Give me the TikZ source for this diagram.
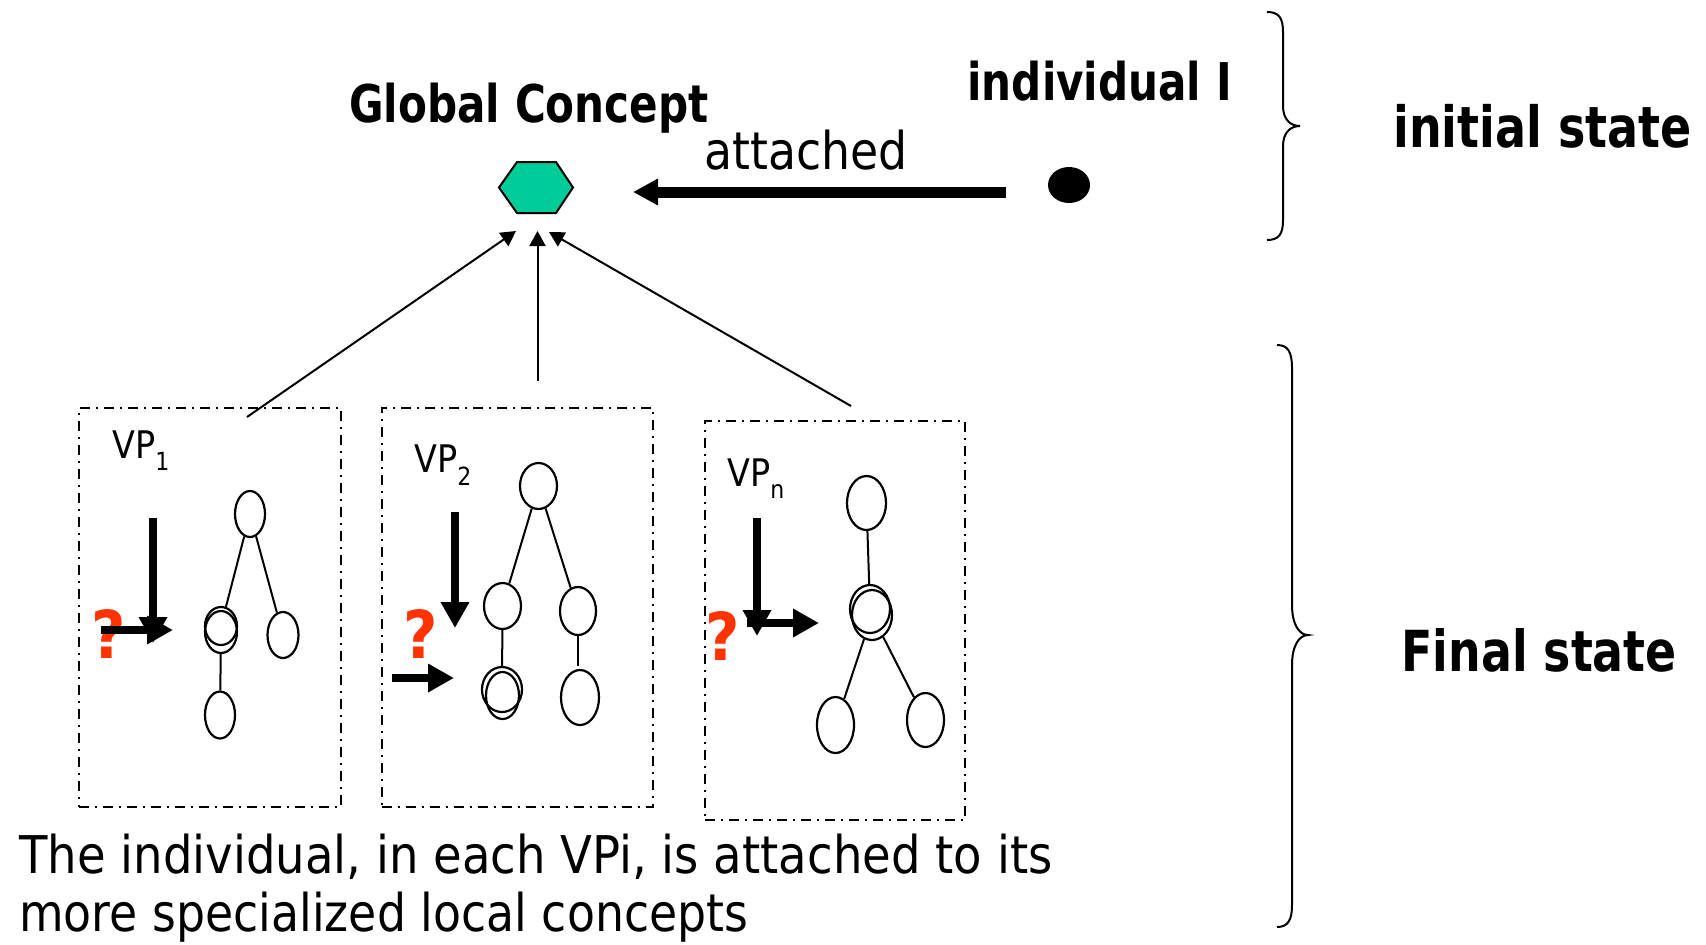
\documentclass[tikz,border=0pt]{standalone}
\usepackage{fontspec}
\setmainfont{DejaVu Sans}[FakeStretch=0.88]
\newfontfamily\bfam{DejaVu Sans}[FakeStretch=0.81]
\newfontfamily\descfam{DejaVu Sans}[FakeStretch=0.895]
\newfontfamily\desctwofam{DejaVu Sans}[FakeStretch=0.88]
\newfontfamily\qfam{DejaVu Sans}[FakeStretch=0.9]
\usetikzlibrary{arrows.meta,shapes.geometric,fit}
\definecolor{gcteal}{HTML}{00CC99}
\definecolor{qred}{HTML}{FF3300}
\tikzset{
  lbl/.style={inner sep=0, anchor=base west},
  boldlbl/.style={lbl, font=\bfam\bfseries\fontsize{#1}{#1}\selectfont},
  reglbl/.style={lbl, font=\fontsize{#1}{#1}\selectfont},
  desclbl/.style={lbl, font=\descfam\fontsize{26}{26}\selectfont},
  desctwolbl/.style={lbl, font=\desctwofam\fontsize{26}{26}\selectfont},
  vpbox/.style={draw, line width=1pt, dash pattern=on 5pt off 3pt on 1pt off 3pt, inner sep=0},
  cn/.style n args={2}{draw, ellipse, line width=1.1pt, inner sep=0, minimum width=#1, minimum height=#2},
  treeln/.style={line width=1pt},
  thinarr/.style={line width=1pt, -{Triangle[length=7.5pt,width=8pt]}},
  bigarr/.style={line width=4pt, -{Triangle[length=13pt,width=13.5pt]}},
  mainarr/.style={line width=5.5pt, -{Triangle[length=12.5pt,width=12.5pt]}},
  qmark/.style={inner sep=0, anchor=base, text=qred, font=\qfam\bfseries\fontsize{33}{33}\selectfont},
  brace/.style={line width=1pt},
}
\newcommand{\vpsub}[2]{\raisebox{#1}{\fontsize{12.5}{12.5}\selectfont #2}}
\begin{document}
\begin{tikzpicture}[x=0.5pt,y=-0.5pt]
\useasboundingbox (0,0) rectangle (1706,944);

% titles
\node[boldlbl=26] (gctext) at (349,122) {Global Concept};
\node[boldlbl=26] (indtext) at (967,100) {individual I};
\node[reglbl=26] (att) at (704,169) {attached};
\node[boldlbl=28.4] (init) at (1393,147) {initial state};
\node[boldlbl=28.3] (fin) at (1401,671) {Final state};

% global concept hexagon
\draw[line width=1pt, fill=gcteal] (499,187.5) -- (517,162) -- (556,162) -- (573,187.5) -- (556,213) -- (517,213) -- cycle;
\coordinate (gc) at (536,187.5);

% individual
\node[fill, ellipse, minimum width=21pt, minimum height=18pt, inner sep=0] (dot) at (1069,185) {};
\coordinate (ms) at (1006,192);
\coordinate (me) at (633,192);
\draw[mainarr] (ms) -- (me);

% braces
\draw[brace] (1267,12) .. controls (1279,12) and (1283,18) .. (1283,32) -- (1283,106)
  .. controls (1283,119) and (1290,126) .. (1300,126)
  .. controls (1290,126) and (1283,133) .. (1283,146) -- (1283,220)
  .. controls (1283,234) and (1279,240) .. (1267,240);
\draw[brace] (1277,345) .. controls (1288,345) and (1292,352) .. (1292,368) -- (1292,605)
  .. controls (1292,624) and (1299,635) .. (1308,635)
  .. controls (1299,635) and (1292,646) .. (1292,665) -- (1292,905)
  .. controls (1292,920) and (1288,927) .. (1277,927);

% boxes
\node[vpbox, fit={(79,408) (341,807)}] (box1) {};
\node[vpbox, fit={(382,408) (653,807)}] (box2) {};
\node[vpbox, fit={(705,421) (965,820)}] (box3) {};

% thin arrows to global concept
\coordinate (s1) at (247,417); \coordinate (e1) at (516,231);
\coordinate (s2) at (537.5,381); \coordinate (e2) at (537.5,231);
\coordinate (s3) at (851,406); \coordinate (e3) at (549,232);
\draw[thinarr] (s1) -- (e1);
\draw[thinarr] (s2) -- (e2);
\draw[thinarr] (s3) -- (e3);

% VP labels
\node[reglbl=19] (vp1) at (112,458) {VP\vpsub{-6pt}{1}};
\node[reglbl=19] (vp2) at (414,472) {VP\vpsub{-6.5pt}{2}};
\node[reglbl=19] (vpn) at (727,486) {VP\vpsub{-6pt}{n}};

% question marks
\node[qmark] (q1) at (109,658) {?};
\node[qmark] (q2) at (421,658) {?};
\node[qmark] (q3) at (723,660) {?};

% box 1 arrows
\coordinate (d1s) at (153,518); \coordinate (d1e) at (153,643);
\coordinate (r1s) at (101,630); \coordinate (r1e) at (173,630);
\draw[bigarr] (d1s) -- (d1e);
\draw[bigarr] (r1s) -- (r1e);
% box 1 tree
\node[cn={15pt}{23pt}] (a1) at (250,514) {};
\node[cn={16pt}{19pt}] (a2) at (221,626) {};
\node[cn={16pt}{21pt}] (a2b) at (221,632) {};
\node[cn={15.5pt}{23pt}] (a3) at (283,635) {};
\node[cn={15pt}{23.5pt}] (a4) at (220,715) {};
\draw[treeln] (a1) -- (a2);
\draw[treeln] (a1) -- (a3);
\draw[treeln] (a2b) -- (a4);

% box 2 arrows
\coordinate (d2s) at (455,512); \coordinate (d2e) at (455,628);
\coordinate (r2s) at (392,678); \coordinate (r2e) at (454,678);
\draw[bigarr] (d2s) -- (d2e);
\draw[bigarr] (r2s) -- (r2e);
% box 2 tree
\node[cn={18.5pt}{23pt}] (b1) at (538.5,486) {};
\node[cn={18.5pt}{23pt}] (b2) at (502.5,606) {};
\node[cn={18pt}{24pt}] (b3) at (578,611) {};
\node[cn={20pt}{22.5pt}] (b4) at (502,689.5) {};
\node[cn={16.5pt}{23.5pt}] (b4b) at (502.5,695.5) {};
\node[cn={19pt}{27.5pt}] (b5) at (580,697.5) {};
\draw[treeln] (b1) -- (b2);
\draw[treeln] (b1) -- (b3);
\draw[treeln] (b2) -- (b4);
\draw[treeln] (b3.south) -- ++(0,30);

% box 3 arrows
\coordinate (d3s) at (757,518); \coordinate (d3e) at (757,636);
\coordinate (r3s) at (747,623); \coordinate (r3e) at (819,623);
\draw[bigarr] (d3s) -- (d3e);
\draw[bigarr] (r3s) -- (r3e);
% box 3 tree
\node[cn={19.5pt}{27pt}] (c1) at (866.5,503) {};
\node[cn={20pt}{24pt}] (c2) at (870,609) {};
\node[cn={20pt}{25pt}] (c2b) at (872,615) {};
\node[cn={18.5pt}{28pt}] (c3) at (835.5,725) {};
\node[cn={18.5pt}{27pt}] (c4) at (925.5,720) {};
\draw[treeln] (c1) -- (c2);
\draw[treeln] (c2b) -- (c3);
\draw[treeln] (c2b) -- (c4);

% bottom text
\node[desclbl] (desc1) at (19,873) {The individual, in each VPi, is attached to its};
\node[desctwolbl] (desc2) at (19,931) {more specialized local concepts};
\end{tikzpicture}
\end{document}
